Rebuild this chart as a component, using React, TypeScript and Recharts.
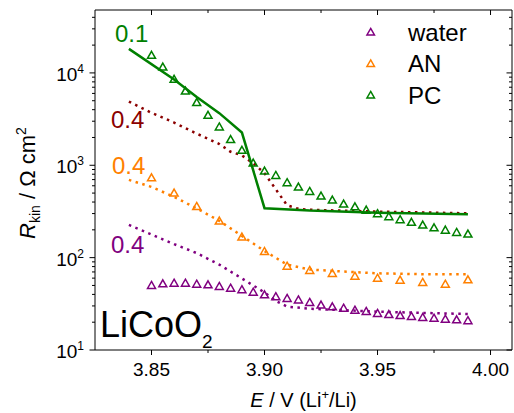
import { ComposedChart, Line, Scatter, XAxis, YAxis } from "recharts";

const FONT = "'Liberation Sans', Arial, sans-serif";

const C_WATER = "#800080";
const C_AN = "#ff8000";
const C_PC = "#008000";
const C_PC04 = "#8b0000";

// measured points, E in V, R in ohm cm2
const E_FINE = [
  3.85, 3.855, 3.86, 3.865, 3.87, 3.875, 3.88, 3.885, 3.89, 3.895,
  3.9, 3.905, 3.91, 3.915, 3.92, 3.925, 3.93, 3.935, 3.94, 3.945,
  3.95, 3.955, 3.96, 3.965, 3.97, 3.975, 3.98, 3.985, 3.99,
];
const E_COARSE = [3.85, 3.86, 3.87, 3.88, 3.89, 3.9, 3.91, 3.92, 3.93, 3.94, 3.95, 3.96, 3.97, 3.98, 3.99];

const R_WATER = [
  50.6, 52.8, 53.6, 53.6, 52.3, 51.5, 49.4, 47.3, 45.5, 42.8,
  40.1, 38.2, 36.6, 35.3, 33.1, 31.0, 29.7, 28.7, 27.3, 26.5,
  25.2, 24.5, 23.9, 23.4, 22.8, 22.4, 21.8, 21.5, 21.0,
];
const R_AN = [740, 506, 363, 252, 169, 118, 81.9, 73.6, 68.3, 63.8, 60.7, 57.8, 54.5, 52.3, 58.3];
const R_PC = [
  15700, 11700, 8630, 6440, 4830, 3520, 2630, 1920, 1470, 1070,
  877, 787, 656, 588, 528, 470, 425, 385, 360, 331,
  303, 281, 261, 244, 228, 213, 201, 190, 182,
];

// model curves
const E_FIT_PC = [3.84, 3.86, 3.87, 3.88, 3.89, 3.9, 3.92, 3.95, 3.99];
const R_FIT_PC = [18200, 8500, 5500, 3670, 2260, 343, 323, 307, 295];

const E_FIT_PC04 = [3.84, 3.85, 3.86, 3.87, 3.88, 3.885, 3.89, 3.895, 3.9, 3.905, 3.91, 3.915, 3.92, 3.95, 3.99];
const R_FIT_PC04 = [4900, 3700, 2900, 2200, 1700, 1400, 1280, 1050, 820, 550, 368, 338, 330, 315, 302];

const E_FIT_AN = [3.84, 3.85, 3.86, 3.87, 3.88, 3.89, 3.9, 3.91, 3.92, 3.93, 3.95, 3.97, 3.99];
const R_FIT_AN = [695, 583, 455, 341, 250, 172, 118, 84, 74.5, 71.8, 67.7, 66.1, 66];

const E_FIT_WATER = [3.84, 3.85, 3.86, 3.87, 3.88, 3.89, 3.9, 3.905, 3.91, 3.92, 3.95, 3.99];
const R_FIT_WATER = [226, 178, 140, 112, 84, 59.5, 42, 34, 29.5, 28, 26, 24.5];

// axes
const E_DOMAIN = [3.825, 4.0095];
const E_MAJOR = [3.85, 3.9, 3.95, 4.0];
const E_MINOR = [3.875, 3.925, 3.975];
const R_DOMAIN = [10, 48000];
const R_MAJOR = [10, 100, 1000, 10000];
const R_MINOR = [10, 100, 1000, 10000].flatMap((d) => [2, 3, 4, 5, 6, 7, 8, 9].map((k) => k * d)).filter((v) => v < 48000);

const LEGEND = [
  { name: "water", color: C_WATER },
  { name: "AN", color: C_AN },
  { name: "PC", color: C_PC },
];

const zip = (xs: number[], ys: number[]) => xs.map((x, i) => ({ x, y: ys[i] }));
const isMajor = (list: number[], v: number) => list.some((m) => Math.abs(m - v) < 1e-9);

function tri(cx: number, cy: number, w: number, h: number) {
  return `M${cx},${cy - h / 2} L${cx + w / 2},${cy + h / 2} L${cx - w / 2},${cy + h / 2} Z`;
}

function triangleShape(color: string) {
  return (p: any) => (
    <path d={tri(p.cx, p.cy, 8, 7)} fill="none" stroke={color} strokeWidth={1.5} strokeLinejoin="miter" />
  );
}

function BottomTick(p: any) {
  const x = Number(p.x), y = Number(p.y);
  const major = isMajor(E_MAJOR, p.payload.value);
  return (
    <g>
      <line x1={x} x2={x} y1={y} y2={y + (major ? 5 : 3)} stroke="#000" strokeWidth={1} />
      {major && (
        <text x={x} y={y + 26} textAnchor="middle" fontSize={19} fontFamily={FONT} fill="#000">
          {p.payload.value.toFixed(2)}
        </text>
      )}
    </g>
  );
}

function TopTick(p: any) {
  const x = Number(p.x), y = Number(p.y);
  const major = isMajor(E_MAJOR, p.payload.value);
  return <line x1={x} x2={x} y1={y} y2={y + (major ? 5 : 3)} stroke="#000" strokeWidth={1} />;
}

function LeftTick(p: any) {
  const x = Number(p.x), y = Number(p.y);
  const v = p.payload.value;
  const major = isMajor(R_MAJOR, v);
  return (
    <g>
      <line x1={x} x2={x - (major ? 5.5 : 3)} y1={y} y2={y} stroke="#000" strokeWidth={1} />
      {major && (
        <text x={x - 11} y={y + 8} textAnchor="end" fontSize={19} fontFamily={FONT} fill="#000">
          <tspan>10</tspan>
          <tspan fontSize={12} dy={-8}>{Math.round(Math.log10(v))}</tspan>
        </text>
      )}
    </g>
  );
}

function RightTick(p: any) {
  const x = Number(p.x), y = Number(p.y);
  const major = isMajor(R_MAJOR, p.payload.value);
  return <line x1={x} x2={x - (major ? 5.5 : 3)} y1={y} y2={y} stroke="#000" strokeWidth={1} />;
}

export default function App() {
  return (
    <div style={{ position: "relative", width: 514, height: 413, fontFamily: FONT }}>
      <style>{"body{margin:0}"}</style>
      <ComposedChart width={514} height={413} margin={{ top: 9, right: 1, bottom: 62, left: 0 }}>
        <XAxis
          xAxisId="b" type="number" dataKey="x" domain={E_DOMAIN} allowDataOverflow
          ticks={[...E_MAJOR, ...E_MINOR]} interval={0} tickSize={0} tickMargin={0} tickLine={false}
          tick={(p: any) => <BottomTick {...p} />} stroke="#000" axisLine={{ stroke: "#000" }} height={1}
        />
        <XAxis
          xAxisId="t" orientation="top" type="number" dataKey="x" domain={E_DOMAIN} allowDataOverflow
          ticks={[...E_MAJOR, ...E_MINOR]} interval={0} tickSize={0} tickMargin={0} tickLine={false}
          tick={(p: any) => <TopTick {...p} />} stroke="#000" axisLine={{ stroke: "#000" }} height={1}
        />
        <YAxis
          yAxisId="l" type="number" dataKey="y" scale="log" domain={R_DOMAIN} allowDataOverflow
          ticks={[...R_MAJOR, ...R_MINOR]} interval={0} tickSize={0} tickMargin={0} tickLine={false}
          tick={(p: any) => <LeftTick {...p} />} stroke="#000" axisLine={{ stroke: "#000" }} width={95}
        />
        <YAxis
          yAxisId="r" orientation="right" type="number" dataKey="y" scale="log" domain={R_DOMAIN} allowDataOverflow
          ticks={[...R_MAJOR, ...R_MINOR]} interval={0} tickSize={0} tickMargin={0} tickLine={false}
          tick={(p: any) => <RightTick {...p} />} stroke="#000" axisLine={{ stroke: "#000" }} width={1}
        />

        <Line xAxisId="b" yAxisId="l" data={zip(E_FIT_WATER, R_FIT_WATER)} dataKey="y" type="linear"
          stroke={C_WATER} strokeWidth={2.5} strokeDasharray="2.5 4.5" dot={false} activeDot={false} isAnimationActive={false} />
        <Line xAxisId="b" yAxisId="l" data={zip(E_FIT_AN, R_FIT_AN)} dataKey="y" type="linear"
          stroke={C_AN} strokeWidth={2.5} strokeDasharray="2.5 4.5" dot={false} activeDot={false} isAnimationActive={false} />
        <Line xAxisId="b" yAxisId="l" data={zip(E_FIT_PC04, R_FIT_PC04)} dataKey="y" type="linear"
          stroke={C_PC04} strokeWidth={2.5} strokeDasharray="2.5 4.5" dot={false} activeDot={false} isAnimationActive={false} />
        <Line xAxisId="b" yAxisId="l" data={zip(E_FIT_PC, R_FIT_PC)} dataKey="y" type="linear"
          stroke={C_PC} strokeWidth={2.5} dot={false} activeDot={false} isAnimationActive={false} />

        <Scatter xAxisId="b" yAxisId="l" data={zip(E_FINE, R_WATER)} dataKey="y"
          shape={triangleShape(C_WATER)} isAnimationActive={false} />
        <Scatter xAxisId="b" yAxisId="l" data={zip(E_COARSE, R_AN)} dataKey="y"
          shape={triangleShape(C_AN)} isAnimationActive={false} />
        <Scatter xAxisId="b" yAxisId="l" data={zip(E_FINE, R_PC)} dataKey="y"
          shape={triangleShape(C_PC)} isAnimationActive={false} />
      </ComposedChart>

      <svg width={514} height={413} style={{ position: "absolute", left: 0, top: 0, pointerEvents: "none" }}>
        <g fontFamily={FONT} style={{ whiteSpace: "pre" }}>
          <text x={115} y={42} fontSize={24} fill={C_PC}>0.1</text>
          <text x={111} y={128} fontSize={24} fill={C_PC04}>0.4</text>
          <text x={112} y={174} fontSize={24} fill={C_AN}>0.4</text>
          <text x={111} y={253} fontSize={24} fill={C_WATER}>0.4</text>

          <text x={100} y={337} fontSize={36} fill="#000">
            LiCoO<tspan fontSize={19} dy={11}>2</tspan>
          </text>

          {LEGEND.map((l, i) => (
            <g key={l.name}>
              <path d={tri(370.7, 31.7 + i * 31.5, 7.5, 6.5)} fill="none" stroke={l.color} strokeWidth={1.5} />
              <text x={408} y={40.7 + i * 31.5} fontSize={24} fill="#000">{l.name}</text>
            </g>
          ))}

          <text x={303.5} y={406.5} textAnchor="middle" fontSize={20} fill="#000">
            <tspan fontStyle="italic">E</tspan>
            <tspan> / V (Li</tspan>
            <tspan fontSize={13} dy={-8}>+</tspan>
            <tspan dy={8}>/Li)</tspan>
          </text>

          <text transform="translate(35,183) rotate(-90)" textAnchor="middle" fontSize={22} fill="#000">
            <tspan fontStyle="italic">R</tspan>
            <tspan fontSize={14} dy={5}>kin</tspan>
            <tspan dy={-5}> / Ω cm</tspan>
            <tspan fontSize={14} dy={-9}>2</tspan>
          </text>
        </g>
      </svg>
    </div>
  );
}
